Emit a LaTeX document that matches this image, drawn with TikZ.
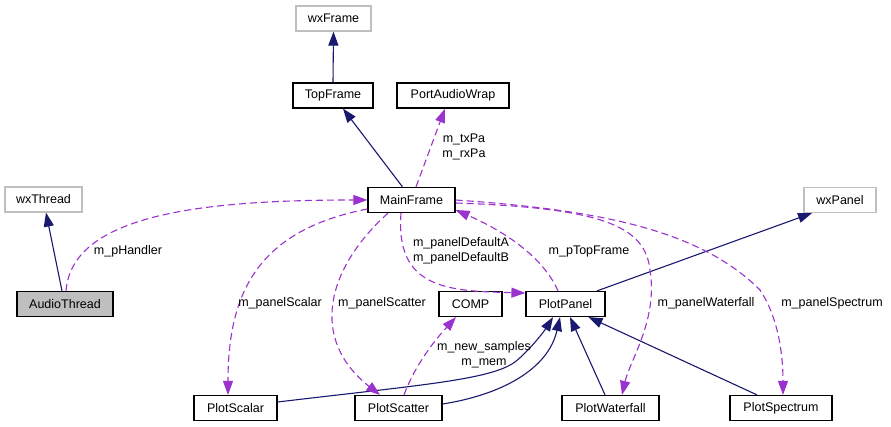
\documentclass[tikz,border=0pt]{standalone}
\usepackage{fontspec}
\setmainfont{Liberation Sans}
\usetikzlibrary{arrows.meta}
\definecolor{navy}{HTML}{191970}
\definecolor{orchid}{HTML}{9A32CD}
\definecolor{boxgrey}{HTML}{BFBFBF}
\tikzset{
  cls/.style={draw=black, line width=1.2pt, fill=white, minimum height=25pt, inner sep=0pt, font=\fontsize{12.5}{14}\selectfont},
  ext/.style={cls, draw=boxgrey},
  inh/.style={draw=navy, line width=1.1pt, -{Triangle[length=14pt,width=10pt]}},
  use/.style={draw=orchid, line width=1.1pt, dash pattern=on 7pt off 4pt, -{Triangle[length=14pt,width=10pt]}},
  lbl/.style={inner sep=0pt, align=center, font=\fontsize{12.5}{15}\selectfont}
}
\begin{document}
\begin{tikzpicture}[x=1pt,y=-1pt]
\useasboundingbox[fill=white] (0,0) rectangle (891,427);
% nodes
\node[ext, minimum width=75pt] (wxf) at (333.5,18.5) {wxFrame};
\node[cls, minimum width=80pt] (tf) at (333,95.5) {TopFrame};
\node[cls, minimum width=112pt] (pa) at (453,95.5) {PortAudioWrap};
\node[cls, minimum width=87pt] (mf) at (411.5,200) {MainFrame};
\node[ext, minimum width=77pt] (wxt) at (43.5,199.5) {wxThread};
\node[cls, minimum width=96pt, fill=boxgrey] (at) at (65,304) {AudioThread};
\node[cls, minimum width=63pt] (comp) at (470.5,304) {COMP};
\node[cls, minimum width=79pt] (pp) at (565.5,304) {PlotPanel};
\node[ext, minimum width=72pt] (wxp) at (840,200) {wxPanel};
\node[cls, minimum width=83pt] (ps) at (235.5,408) {PlotScalar};
\node[cls, minimum width=87pt] (psc) at (398.5,408) {PlotScatter};
\node[cls, minimum width=97pt] (pw) at (610.5,408) {PlotWaterfall};
\node[cls, minimum width=102pt] (psp) at (781,408) {PlotSpectrum};
% inheritance
\draw[inh] (tf.north) -- (wxf.south);
\draw[inh] ([xshift=-9pt]mf.north) -- ([xshift=10pt]tf.south);
\draw[inh] ([xshift=-3pt]at.north) -- ([xshift=2.5pt]wxt.south);
\draw[inh] ([xshift=31.5pt]pp.north) -- ([xshift=-28pt]wxp.south);
\draw[inh] ([yshift=6pt]ps.east) .. controls (420,385) and (490,380) .. (515,362) .. controls (530,350) and (545,330) .. ([xshift=-12.5pt]pp.south);
\draw[inh] ([yshift=4pt]psc.east) .. controls (500,395) and (548,370) .. ([xshift=-5.5pt]pp.south);
\draw[inh] ([xshift=-5.5pt]pw.north) -- ([xshift=4.5pt]pp.south);
\draw[inh] ([xshift=-24pt]psp.north) -- ([xshift=23pt]pp.south);
% usage
\draw[use] ([xshift=4.5pt]mf.north) -- ([xshift=-8pt]pa.south);
\draw[use] ([xshift=1pt]at.north) .. controls (72,215) and (200,200) .. (mf.west);
\draw[use] ([yshift=-9pt]mf.west) .. controls (260,230) and (228,290) .. ([xshift=-7.5pt]ps.north);
\draw[use] ([xshift=-23.5pt]mf.south) .. controls (325,270) and (310,340) .. ([xshift=-18.5pt]psc.north);
\draw[use] ([xshift=-10.5pt]mf.south) .. controls (395,290) and (450,291) .. ([yshift=11pt]pp.west);
\draw[use] ([xshift=-7.5pt]pp.north) .. controls (540,250) and (490,225) .. ([yshift=-10pt]mf.east);
\draw[use] ([yshift=-3pt]mf.east) .. controls (600,208) and (645,225) .. (650,270) .. controls (658,320) and (630,360) .. ([xshift=11.5pt]pw.north);
\draw[use] (mf.east) .. controls (600,210) and (700,230) .. (760,290) .. controls (780,320) and (783,360) .. ([xshift=2pt]psp.north);
\draw[use] ([xshift=5.5pt]psc.north) .. controls (415,365) and (435,340) .. ([xshift=-14.5pt]comp.south);
% labels
\node[lbl] (l1) at (464,147) {m\_txPa\\m\_rxPa};
\node[lbl] (l2) at (128,251) {m\_pHandler};
\node[lbl] (l3) at (280,303) {m\_panelScalar};
\node[lbl] (l4) at (382,303) {m\_panelScatter};
\node[lbl] (l5) at (461,251) {m\_panelDefaultA\\m\_panelDefaultB};
\node[lbl] (l6) at (589,251) {m\_pTopFrame};
\node[lbl] (l7) at (706,303) {m\_panelWaterfall};
\node[lbl] (l8) at (832,303) {m\_panelSpectrum};
\node[lbl] (l9) at (484,355) {m\_new\_samples\\m\_mem};
\end{tikzpicture}
\end{document}
